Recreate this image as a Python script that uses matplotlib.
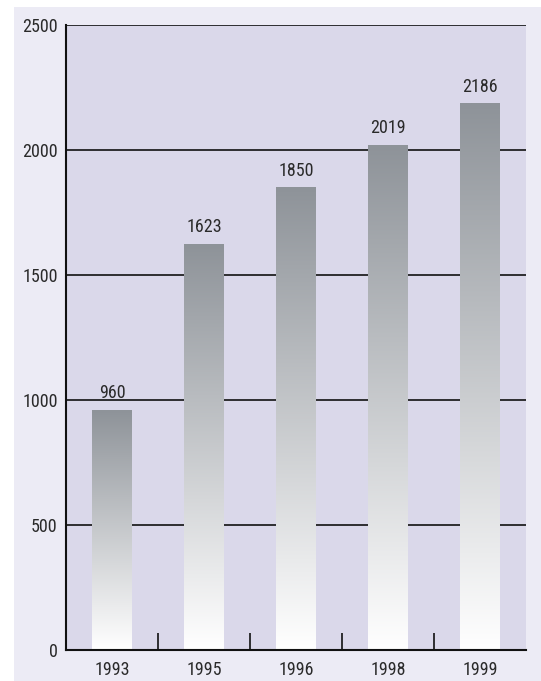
import matplotlib
matplotlib.use("Agg")
import matplotlib.pyplot as plt
import numpy as np
from matplotlib import font_manager
from matplotlib.patches import Rectangle
from matplotlib.colors import LinearSegmentedColormap

years = ["1993", "1995", "1996", "1998", "1999"]
values = [960, 1623, 1850, 2019, 2186]
yticks = [0, 500, 1000, 1500, 2000, 2500]

names = {f.name for f in font_manager.fontManager.ttflist}
fam = "Liberation Sans"
for cand in ["Liberation Sans Narrow", "Roboto Condensed", "Open Sans Condensed", "Liberation Sans"]:
    if cand in names:
        fam = cand
        break
FS = 13

W, H = 541, 681
fig = plt.figure(figsize=(W / 100, H / 100), dpi=100)
fig.patch.set_facecolor("white")
fig.add_artist(Rectangle((14 / W, 0), (W - 14) / W, (H - 7) / H,
                         transform=fig.transFigure, facecolor="#ECEBF5",
                         edgecolor="none", zorder=-10))

ax = fig.add_axes([66 / W, (H - 650) / H, (526 - 66) / W, (650 - 25) / H])
ax.set_facecolor("#DAD8EA")

for y in yticks[1:]:
    ax.axhline(y, color="#111111", lw=1.2, zorder=1)

bw = 0.43
grad = np.linspace(0, 1, 256).reshape(-1, 1)
cmap = LinearSegmentedColormap.from_list("g", ["#FFFFFF", "#8E9399"])
for i, v in enumerate(values):
    ax.imshow(grad, extent=(i - bw / 2, i + bw / 2, 0, v), origin="lower",
              cmap=cmap, aspect="auto", zorder=2, interpolation="bilinear")
    ax.text(i, v + 48, str(v), ha="center", va="baseline", fontsize=FS,
            family=fam, color="#2A2A2A", zorder=3)
ax.set_xlim(-0.5, len(years) - 0.5)
ax.set_ylim(0, 2500)

for s in ["top", "right"]:
    ax.spines[s].set_visible(False)
for s in ["left", "bottom"]:
    ax.spines[s].set_linewidth(1.5)
    ax.spines[s].set_color("#111111")

ax.set_yticks(yticks)
ax.set_yticklabels([str(t) for t in yticks], family=fam, fontsize=FS, color="#2A2A2A")
ax.tick_params(axis="y", length=0, pad=6)
ax.set_xticks(range(len(years)))
ax.set_xticklabels(years, family=fam, fontsize=FS, color="#2A2A2A")
ax.tick_params(axis="x", which="major", length=0, pad=8)
ax.set_xticks([0.5, 1.5, 2.5, 3.5], minor=True)
ax.tick_params(axis="x", which="minor", direction="in", length=12, width=1.2, color="#111111")

fig.savefig("out.png", dpi=100, facecolor=fig.get_facecolor())
